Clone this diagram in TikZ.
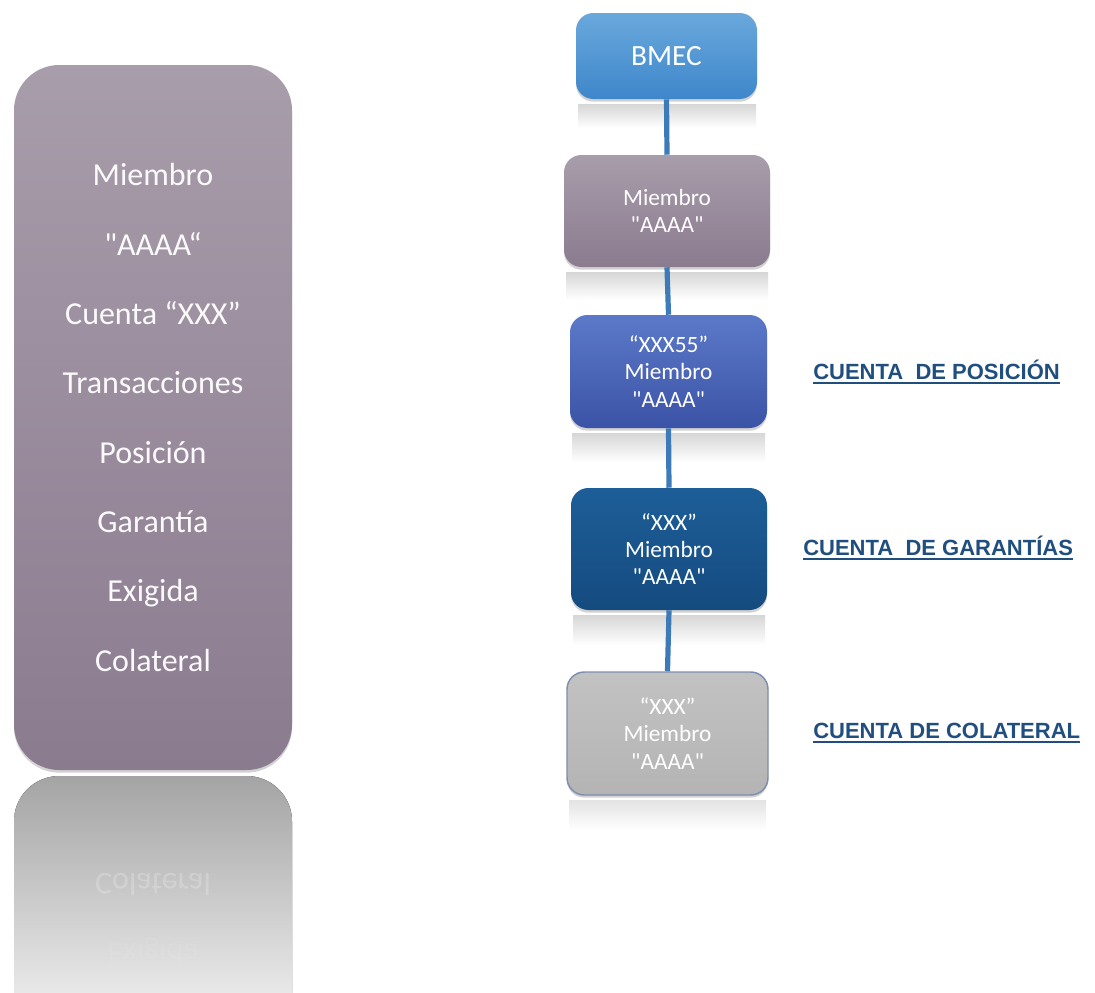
\documentclass[tikz,border=0pt]{standalone}
\usepackage{fontspec}
\usepackage{graphicx}
\setmainfont{Carlito}[Ligatures=TeXOff]
\newfontfamily\lblfont{Liberation Sans}
\usetikzlibrary{shadows}
\definecolor{mauveT}{HTML}{A89DAB}
\definecolor{mauveB}{HTML}{8B7B8F}
\definecolor{bmecT}{HTML}{6AA8DC}
\definecolor{bmecB}{HTML}{3E87CB}
\definecolor{royT}{HTML}{5C79C9}
\definecolor{royB}{HTML}{3B53A6}
\definecolor{navT}{HTML}{1D5E98}
\definecolor{navB}{HTML}{154B7F}
\definecolor{grayT}{HTML}{C2C2C2}
\definecolor{grayB}{HTML}{B4B4B4}
\definecolor{grayEdge}{HTML}{7D8EB0}
\definecolor{linkcol}{HTML}{3D7AB8}
\definecolor{lblcol}{HTML}{1F4E7F}
\definecolor{reflT}{HTML}{A4A4A4}
\definecolor{reflB}{HTML}{FAFAFA}
\newcommand\ulbl[1]{\setbox0\hbox{#1}\rlap{\color{lblcol}\rule[-3pt]{\wd0}{1.3pt}}\box0}
\tikzset{
  softshadow/.style={drop shadow={shadow xshift=0pt, shadow yshift=-2pt, opacity=0.25, fill=black!70}},
  box/.style={rounded corners=13pt, text=white, align=center, inner sep=0pt,
    font=\fontsize{17.5}{20.5}\selectfont, softshadow},
  link/.style={draw=linkcol, line width=3.9pt},
  acct/.style={anchor=west, inner sep=0pt, text=lblcol, font=\lblfont\bfseries\fontsize{16.5}{20}\selectfont},
  refl/.style={top color=black!16, bottom color=white}
}
\begin{document}
\begin{tikzpicture}[x=0.75pt,y=-0.75pt]
\useasboundingbox (0,0) rectangle (1095,992);
\fill[white] (0,0) rectangle (1095,992);

% reflection of the big box (runs past the bottom edge)
\begin{scope}
\clip (0,0) rectangle (1095,992);
\fill[top color=reflT, bottom color=reflB, rounded corners=34pt]
  (14,776) rectangle (292,1050);
\end{scope}
\node[text=white, opacity=0.22, font=\fontsize{24}{52}\selectfont] at (153,884) {\scalebox{1}[-1]{Colateral}};
\node[text=white, opacity=0.06, font=\fontsize{24}{52}\selectfont] at (153,952) {\scalebox{1}[-1]{Exigida}};

% reflections of the small boxes
\fill[refl] (578,104) rectangle (756,128);
\fill[refl] (566,272) rectangle (768,300);
\fill[refl] (572,433) rectangle (765,462);
\fill[refl] (573,615) rectangle (765,645);
\fill[top color=black!11, bottom color=white] (569,800) rectangle (766,830);

% big box
\node[box, rounded corners=34pt, top color=mauveT, bottom color=mauveB,
  minimum width=208.5pt, minimum height=528.75pt, text=white!95!mauveT,
  font=\fontsize{24}{52}\selectfont] (big) at (153,417.5)
  {Miembro\\"AAAA“\\Cuenta “XXX”\\Transacciones\\Posición\\Garantía\\Exigida\\Colateral};

% tree of boxes
\node[box, top color=bmecT, bottom color=bmecB, minimum width=135.75pt, minimum height=64.5pt,
  font=\fontsize{22}{24}\selectfont] (bmec) at (666.5,56) {BMEC};
\node[box, top color=mauveT, bottom color=mauveB, minimum width=154.5pt, minimum height=84pt] (miem) at (667,211) {Miembro\\"AAAA"};
\node[box, top color=royT, bottom color=royB, minimum width=147.75pt, minimum height=84.75pt] (pos) at (668.5,371.5) {“XXX55”\\Miembro\\"AAAA"};
\node[box, top color=navT, bottom color=navB, minimum width=147pt, minimum height=91.5pt] (gar) at (669,549) {“XXX”\\Miembro\\"AAAA"};
\node[box, top color=grayT, bottom color=grayB, draw=grayEdge, line width=1.1pt, minimum width=150.75pt, minimum height=92.25pt] (col) at (667.5,733.5) {“XXX”\\Miembro\\"AAAA"};

% connectors
\path[link] (bmec.south) -- (miem.north);
\path[link] (miem.south) -- (pos.north);
\path[link] (pos.south) -- (gar.north);
\path[link] (gar.south) -- (col.north);

% account labels
\node[acct] (lpos) at (813,372) {\ulbl{CUENTA\ \ DE POSICIÓN}};
\node[acct] (lgar) at (803,548) {\ulbl{CUENTA\ \ DE GARANTÍAS}};
\node[acct] (lcol) at (813,733) {\ulbl{CUENTA DE COLATERAL}};
\end{tikzpicture}
\end{document}
